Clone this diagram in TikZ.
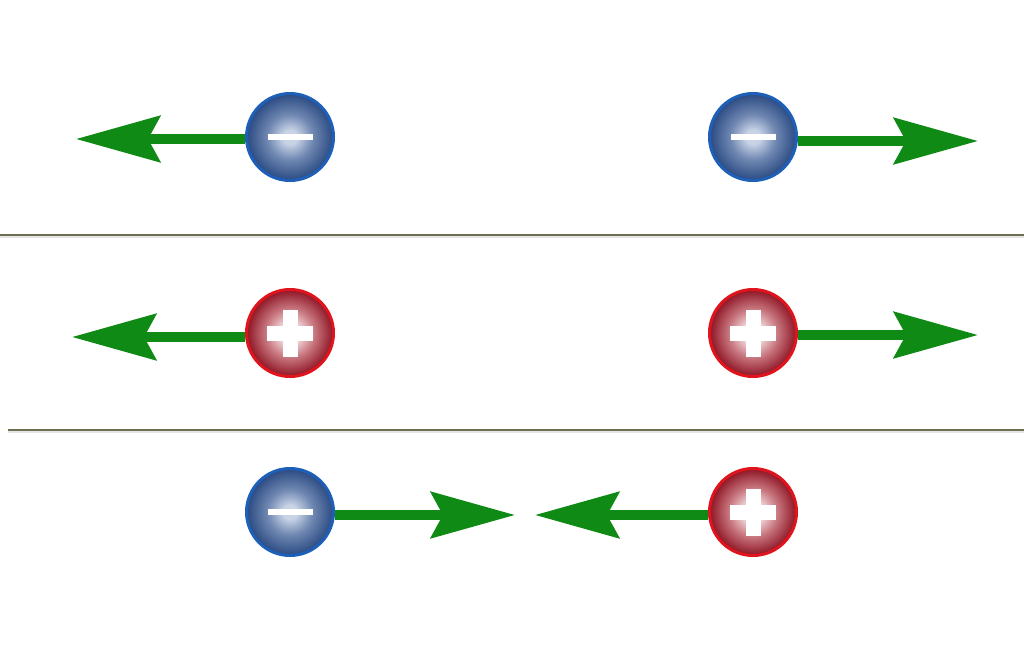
\documentclass[tikz,border=0pt]{standalone}
\usetikzlibrary{arrows.meta}
\definecolor{arrgreen}{HTML}{0F8A14}
\definecolor{negrim}{HTML}{1E5FB8}
\definecolor{negout}{HTML}{2A4A82}
\definecolor{negmid}{HTML}{7088B2}
\definecolor{negin}{HTML}{C8D3E6}
\definecolor{posrim}{HTML}{E0141C}
\definecolor{posout}{HTML}{8E1424}
\definecolor{posmid}{HTML}{C87880}
\definecolor{posin}{HTML}{F6E2E4}
\definecolor{sepline}{HTML}{6E6E52}
\pgfdeclareradialshading{negshade}{\pgfpointorigin}{color(0bp)=(negin); color(4bp)=(negin); color(13bp)=(negmid); color(25bp)=(negout); color(50bp)=(negout)}
\pgfdeclareradialshading{posshade}{\pgfpointorigin}{color(0bp)=(posin); color(5bp)=(posin); color(14bp)=(posmid); color(25bp)=(posout); color(50bp)=(posout)}
\begin{document}
\begin{tikzpicture}[x=1pt,y=-1pt,
  negball/.style={circle, minimum size=87pt, inner sep=0pt, draw=negrim, line width=3pt, shading=negshade},
  posball/.style={circle, minimum size=87pt, inner sep=0pt, draw=posrim, line width=3pt, shading=posshade},
  minusbar/.style={rectangle, fill=white, inner sep=0pt, minimum width=45pt, minimum height=6pt},
  hbar/.style={rectangle, fill=white, inner sep=0pt, minimum width=46pt, minimum height=15pt},
  vbar/.style={rectangle, fill=white, inner sep=0pt, minimum width=15pt, minimum height=47pt},
  arr/.style={draw=arrgreen, line width=9.5pt, -{Stealth[length=84pt,width=46pt,inset=12pt]},
    preaction={draw=black, opacity=0.18, transform canvas={shift={(1.5pt,-2pt)}}}},
  sepl/.style={draw=sepline, line width=1.6pt, preaction={draw=black, opacity=0.1, line width=2pt, transform canvas={yshift=-2pt}}}
]
\fill[white] (0,0) rectangle (1024,646);
\useasboundingbox (0,0) rectangle (1024,646);

% separators
\draw[sepl] (0,235) -- (1024,235);
\draw[sepl] (8,430) -- (1024,430);

% balls
\node[negball] (n1) at (290,137) {};
\node[negball] (n2) at (753,137) {};
\node[posball] (p1) at (290,333) {};
\node[posball] (p2) at (753,333) {};
\node[negball] (n3) at (290,512) {};
\node[posball] (p3) at (753,512) {};

% signs
\node[minusbar] (m1) at (n1) {};
\node[minusbar] (m2) at (n2) {};
\node[minusbar] (m3) at (n3) {};
\foreach \p in {p1,p2,p3}{
  \node[hbar] (\p h) at (\p) {};
  \node[vbar] (\p v) at (\p) {};
}

% arrow tips
\coordinate (t1) at (76,139);
\coordinate (t2) at (978,141);
\coordinate (t3) at (72,337);
\coordinate (t4) at (978,335);
\coordinate (t5) at (515,515);
\coordinate (t6) at (535,515);

\draw[arr] ([yshift=-2pt]n1.west) -- (t1);
\draw[arr] ([yshift=-4pt]n2.east) -- (t2);
\draw[arr] ([yshift=-4pt]p1.west) -- (t3);
\draw[arr] ([yshift=-2pt]p2.east) -- (t4);
\draw[arr] ([yshift=-3pt]n3.east) -- (t5);
\draw[arr] ([yshift=-3pt]p3.west) -- (t6);
\end{tikzpicture}
\end{document}
